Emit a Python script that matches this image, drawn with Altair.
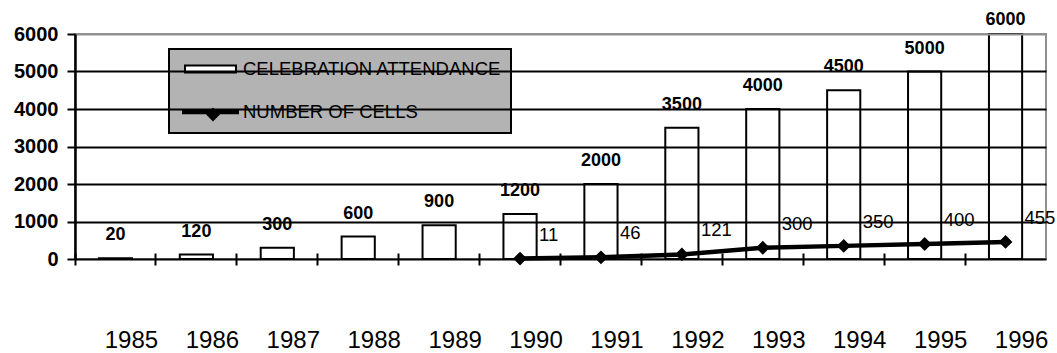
import altair as alt
import pandas as pd

# Yearly figures
years = ["1985", "1986", "1987", "1988", "1989", "1990",
         "1991", "1992", "1993", "1994", "1995", "1996"]
attendance = [20, 120, 300, 600, 900, 1200, 2000, 3500, 4000, 4500, 5000, 6000]

cell_years = ["1990", "1991", "1992", "1993", "1994", "1995", "1996"]
cells = [11, 46, 121, 300, 350, 400, 455]

series_names = ["CELEBRATION ATTENDANCE", "NUMBER OF CELLS"]
y_ticks = [0, 1000, 2000, 3000, 4000, 5000, 6000]

att_df = pd.DataFrame({"year": years, "value": attendance})
cell_df = pd.DataFrame({"year": cell_years, "value": cells})
key_df = pd.DataFrame({"series": series_names})

FONT = "Liberation Sans"

x_scale = alt.Scale(domain=years, paddingInner=0, paddingOuter=0)
y_scale = alt.Scale(domain=[0, 6000], nice=False)

x_axis = alt.Axis(
    title=None, bandPosition=0, domain=False, grid=False,
    ticks=True, tickSize=12, tickWidth=2, tickColor="black", offset=-6,
    labelFont=FONT, labelFontSize=24, labelColor="black",
    labelPadding=63, labelOffset=16, labelAngle=0,
)
y_axis = alt.Axis(
    title=None, values=y_ticks, format="d",
    domain=True, domainColor="black", domainWidth=2.5,
    ticks=True, tickSize=8, tickWidth=2, tickColor="black",
    grid=True, gridWidth=2,
    gridColor={"condition": {"test": "datum.value === 6000", "value": "#909090"},
               "value": "black"},
    labelFont=FONT, labelFontSize=20, labelFontWeight="bold",
    labelColor="black", labelPadding=9, zindex=1,
)

x_enc = alt.X("year:N", scale=x_scale, axis=x_axis)
y_enc = alt.Y("value:Q", scale=y_scale, axis=y_axis)

# Legend symbols (unit = 10 px): a flat open box and a thick line with a diamond
rect_path = "M-0.4,-0.35L4.7,-0.35L4.7,0.35L-0.4,0.35Z"
line_path = ("M-0.6,-0.12L4.9,-0.12L4.9,0.12L-0.6,0.12Z"
             "M2.4,-0.3L2.95,0.25L2.4,0.8L1.85,0.25Z")

legend = alt.Legend(
    title=None, orient="none", legendX=94, legendY=15, direction="vertical",
    fillColor="#b3b3b3", strokeColor="black", padding=9,
    labelFont=FONT, labelFontSize=18.5, labelColor="black", labelOffset=43,
    labelLimit=400, symbolSize=400, symbolStrokeColor="black",
    symbolStrokeWidth=2, symbolOpacity=1, rowPadding=22,
)

key = alt.Chart(key_df).mark_point(opacity=0, filled=True).encode(
    shape=alt.Shape("series:N",
                    scale=alt.Scale(domain=series_names, range=[rect_path, line_path]),
                    legend=legend),
    fill=alt.Fill("series:N",
                  scale=alt.Scale(domain=series_names, range=["white", "black"]),
                  legend=legend),
    stroke=alt.Stroke("series:N",
                      scale=alt.Scale(domain=series_names, range=["black", "black"]),
                      legend=legend),
)

bars = alt.Chart(att_df).mark_bar(
    width=alt.RelativeBandSize(0.41), fill="white", stroke="black", strokeWidth=2
).encode(x=x_enc, y=y_enc)

# Value labels above the bars, kept inside the chart frame
bar_labels = alt.Chart(att_df).transform_calculate(
    pos="min(datum.value, 5760)"
).mark_text(
    font=FONT, fontSize=18, fontWeight="bold", color="black",
    baseline="alphabetic", dy=-18,
).encode(
    x=x_enc,
    y=alt.Y("pos:Q", scale=y_scale, axis=y_axis),
    text=alt.Text("value:Q", format="d"),
)

line = alt.Chart(cell_df).mark_line(color="black", strokeWidth=4.5).encode(
    x=x_enc, y=y_enc
)
points = alt.Chart(cell_df).mark_point(
    shape="diamond", filled=True, color="black", size=190, opacity=1
).encode(x=x_enc, y=y_enc)

cell_labels = alt.Chart(cell_df).mark_text(
    font=FONT, fontSize=18.5, color="black", align="left",
    baseline="alphabetic", dx=19, dy=-18,
).encode(x=x_enc, y=y_enc, text=alt.Text("value:Q", format="d"))

chart = alt.layer(
    bars, bar_labels, line, points, cell_labels, key
).properties(
    width=971, height=225,
    autosize="none",
    padding={"left": 75, "top": 34, "right": 11, "bottom": 94},
    background="white",
).configure_view(
    stroke="#909090", strokeWidth=2
).configure_legend(
    strokeWidth=2
)

chart.save("out.html", embed_options={"renderer": "svg", "actions": False})
